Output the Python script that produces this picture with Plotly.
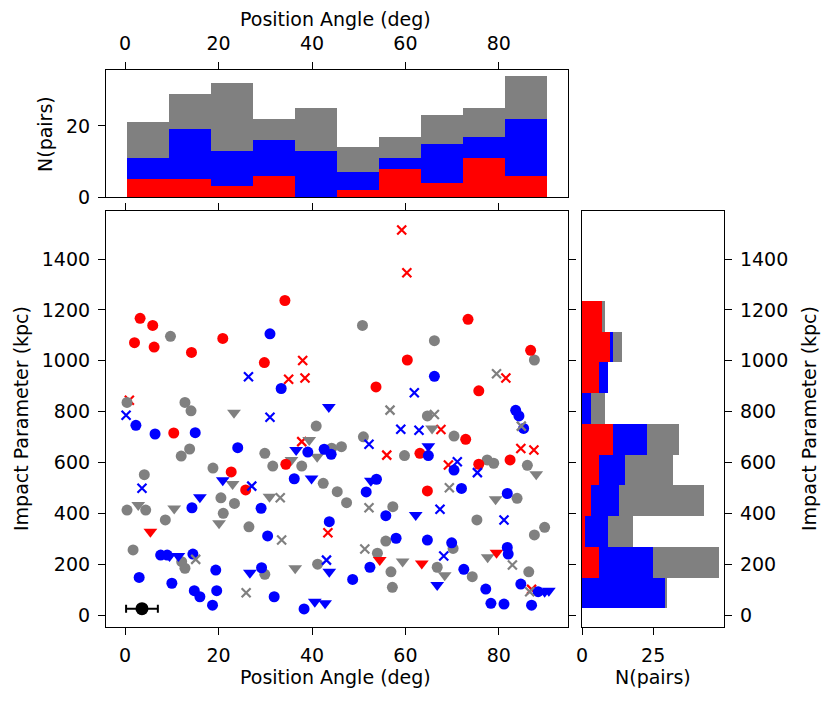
import numpy as np
import plotly.graph_objects as go

# ---------------- data ----------------
red_circle_pa = [3.2, 5.9, 2.0, 6.2, 14.2, 20.9, 29.8, 34.2, 60.4, 53.7, 73.4, 86.8, 75.7, 10.4, 22.7, 34.4, 25.8, 63.1, 64.7, 72.9, 75.7, 82.4]
red_circle_b = [1167, 1139, 1071, 1054, 1033, 1088, 993, 1237, 1003, 897, 1163, 1041, 882, 716, 563, 593, 492, 636, 488, 691, 593, 610]
red_tri_pa = [5.4, 54.5, 63.5, 79.5]
red_tri_b = [328, 216, 203, 245]
red_x_pa = [0.9, 59.2, 60.3, 38.0, 35.0, 38.5, 81.5, 37.8, 43.4, 56.0, 67.6, 69.2, 84.7, 87.5, 87.0]
red_x_b = [845, 1514, 1346, 1001, 927, 932, 932, 682, 324, 629, 730, 590, 655, 649, 101]

blue_circle_pa = [31.0, 33.4, 66.2, 83.6, 84.3, 85.3, 2.3, 6.4, 15.0, 14.3, 7.6, 9.0, 14.5, 3.0, 10.0, 14.8, 16.0, 19.4, 19.6, 18.7,
                  24.1, 39.1, 42.6, 44.1, 36.2, 29.1, 30.5, 43.7, 29.2, 31.9, 38.3, 64.9, 70.4, 53.8, 51.6, 55.8, 58.0, 64.7, 69.9,
                  52.4, 48.7, 72.0, 81.8, 81.8, 82.0, 72.5, 84.7, 88.4, 77.2, 78.3, 81.1, 87.0]
blue_circle_b = [1106, 891, 939, 805, 783, 734, 746, 712, 717, 422, 236, 236, 240, 148, 125, 96, 72, 177, 96, 39,
                 658, 641, 652, 632, 536, 420, 311, 367, 186, 72, 24, 627, 570, 534, 484, 391, 302, 295, 284,
                 188, 140, 498, 478, 266, 240, 180, 122, 92, 102, 46, 43, 39]
blue_tri_pa = [43.6, 20.9, 16.0, 9.5, 11.4, 36.6, 39.9, 26.7, 43.7, 40.6, 42.8, 64.9, 52.6, 62.2, 66.8, 89.8, 90.7]
blue_tri_b = [818, 530, 463, 232, 232, 649, 537, 166, 170, 52, 46, 664, 528, 393, 118, 92, 96]
blue_x_pa = [26.4, 0.2, 31.0, 61.9, 3.6, 27.1, 43.1, 59.0, 62.9, 52.2, 71.1, 67.4, 68.2, 75.4, 81.1]
blue_x_b = [937, 786, 778, 874, 499, 507, 216, 731, 727, 672, 603, 416, 232, 560, 374]

gray_circle_pa = [9.7, 50.8, 66.2, 87.6, 0.4, 12.8, 14.1, 64.7, 13.8, 12.0, 4.1, 18.8, 20.5, 0.4, 4.4, 8.6, 21.0, 1.7, 12.1, 12.8,
                  40.9, 29.9, 44.2, 46.3, 31.6, 37.8, 42.4, 45.4, 23.4, 26.5, 41.2, 29.9, 70.4, 51.0, 59.8, 47.4, 57.3, 55.8,
                  70.2, 54.0, 56.9, 57.2, 66.8, 77.5, 78.9, 86.1, 83.9, 75.3, 87.6, 89.8, 74.3, 86.4]
gray_circle_b = [1096, 1139, 1079, 1003, 836, 836, 803, 783, 653, 625, 552, 578, 461, 413, 413, 374, 400, 256, 210, 184,
                 743, 636, 656, 662, 586, 586, 518, 485, 439, 347, 200, 160, 704, 701, 627, 442, 426, 291,
                 262, 243, 170, 109, 188, 610, 597, 589, 459, 374, 315, 345, 151, 170]
gray_tri_pa = [23.3, 2.8, 10.5, 20.1, 39.4, 41.1, 35.6, 23.0, 30.9, 36.4, 65.7, 59.4, 68.4, 88.0, 79.3, 77.6]
gray_tri_b = [796, 433, 419, 361, 688, 623, 610, 515, 465, 184, 734, 211, 157, 554, 455, 227]
gray_x_pa = [56.7, 66.2, 79.5, 15.1, 33.2, 33.5, 25.9, 52.2, 69.4, 51.3, 84.8, 82.9, 86.6]
gray_x_b = [806, 789, 949, 219, 461, 295, 88, 422, 501, 260, 743, 197, 92]

# typical uncertainty point
err_pa = [3.6]
err_b = [25]
err_pa_size = [3.4]

# histogram of position angle (10 bins), counts per colour
pa_edges = np.linspace(0.3, 90.2, 11)
pa_red = [5, 5, 3, 6, 0, 2, 8, 4, 11, 6]
pa_blue = [6, 14, 10, 10, 13, 5, 3, 11, 6, 16]
pa_gray = [10, 10, 19, 6, 12, 7, 6, 8, 8, 12]

# histogram of impact parameter (10 bins), counts per colour
b_edges = np.linspace(26, 1236, 11)
b_red = [0, 6, 1, 3, 6, 11, 0, 6, 10, 7]
b_blue = [29, 19, 8, 10, 9, 12, 3, 3, 1, 0]
b_gray = [1, 23, 9, 30, 17, 11, 5, 0, 3, 1]

# ---------------- style ----------------
RED, BLUE, GRAY = "#ff0000", "#0000ff", "#808080"
FONT = "DejaVu Sans"
FS = 19
W, H = 830, 702

def px(x):
    return x / W

def py(y):
    return 1 - y / H

fig = go.Figure()

def scat(xs, ys, color, symbol, size, order_name):
    if symbol == "x-thin":
        marker = dict(symbol="x-thin", size=size, line=dict(color=color, width=2.2), color=color)
    else:
        marker = dict(symbol=symbol, size=size, color=color, line=dict(width=0))
    fig.add_trace(go.Scatter(x=xs, y=ys, mode="markers", marker=marker, name=order_name,
                             xaxis="x", yaxis="y", showlegend=False))

scat(red_x_pa, red_x_b, RED, "x-thin", 9, "rx")
scat(gray_circle_pa, gray_circle_b, GRAY, "circle", 11, "gc")
scat(gray_tri_pa, gray_tri_b, GRAY, "triangle-down", 12, "gt")
scat(red_circle_pa, red_circle_b, RED, "circle", 11, "rc")
scat(red_tri_pa, red_tri_b, RED, "triangle-down", 12, "rt")
scat(blue_circle_pa, blue_circle_b, BLUE, "circle", 11, "bc")
scat(blue_tri_pa, blue_tri_b, BLUE, "triangle-down", 12, "bt")
scat(gray_x_pa, gray_x_b, GRAY, "x-thin", 9, "gx")
scat(blue_x_pa, blue_x_b, BLUE, "x-thin", 9, "bx")

fig.add_trace(go.Scatter(x=err_pa, y=err_b, mode="markers",
                         marker=dict(color="black", size=13),
                         error_x=dict(type="data", array=err_pa_size, color="black", thickness=2, width=4),
                         xaxis="x", yaxis="y", showlegend=False))

# top histogram
pa_centers = 0.5 * (pa_edges[:-1] + pa_edges[1:])
pa_w = pa_edges[1] - pa_edges[0]
for vals, col in [(pa_red, RED), (pa_blue, BLUE), (pa_gray, GRAY)]:
    fig.add_trace(go.Bar(x=pa_centers, y=vals, width=pa_w, marker=dict(color=col, line=dict(width=0)),
                         xaxis="x2", yaxis="y2", showlegend=False))

# right histogram
b_centers = 0.5 * (b_edges[:-1] + b_edges[1:])
b_w = b_edges[1] - b_edges[0]
for vals, col in [(b_red, RED), (b_blue, BLUE), (b_gray, GRAY)]:
    fig.add_trace(go.Bar(y=b_centers, x=vals, width=b_w, orientation="h",
                         marker=dict(color=col, line=dict(width=0)),
                         xaxis="x3", yaxis="y3", showlegend=False))

main_xd = [px(106), px(568)]
main_yd = [py(627), py(211)]
top_yd = [py(197), py(70)]
right_xd = [px(582), px(724)]

axis_common = dict(showgrid=False, zeroline=False, showline=True, linecolor="black", linewidth=1.2,
                   ticks="outside", ticklen=7, tickwidth=1.2, tickcolor="black", ticklabelstandoff=4,
                   automargin=False, tickfont=dict(family=FONT, size=FS, color="black"))

xr = [-4.1, 94.8]
yr = [-47, 1589]

fig.update_layout(
    width=W, height=H, margin=dict(l=0, r=0, t=0, b=0, pad=0, autoexpand=False),
    paper_bgcolor="white", plot_bgcolor="white",
    barmode="stack", bargap=0,
    font=dict(family=FONT, size=FS, color="black"),
    xaxis=dict(domain=main_xd, range=xr, anchor="y", tickvals=[0, 20, 40, 60, 80], mirror="ticks", **axis_common),
    yaxis=dict(domain=main_yd, range=yr, anchor="x", tickvals=list(range(0, 1401, 200)), mirror="ticks", **axis_common),
    xaxis2=dict(domain=main_xd, range=xr, anchor="y2", side="top", tickvals=[0, 20, 40, 60, 80], mirror=True, **axis_common),
    yaxis2=dict(domain=top_yd, range=[0, 35.7], anchor="x2", tickvals=[0, 20], mirror=True, **axis_common),
    xaxis3=dict(domain=right_xd, range=[0, 49.9], anchor="y3", tickvals=[0, 25], mirror=True, **axis_common),
    yaxis3=dict(domain=main_yd, range=yr, anchor="x3", side="right", tickvals=list(range(0, 1401, 200)), mirror=True, **axis_common),
)

annots = [
    dict(text="Position Angle (deg)", x=px(335), y=py(677), textangle=0),
    dict(text="Position Angle (deg)", x=px(335), y=py(19), textangle=0),
    dict(text="N(pairs)", x=px(45), y=py(134), textangle=-90),
    dict(text="Impact Parameter (kpc)", x=px(21), y=py(419), textangle=-90),
    dict(text="Impact Parameter (kpc)", x=px(809), y=py(419), textangle=-90),
    dict(text="N(pairs)", x=px(653), y=py(677), textangle=0),
]
for a in annots:
    fig.add_annotation(xref="paper", yref="paper", showarrow=False, xanchor="center", yanchor="middle",
                       font=dict(family=FONT, size=FS, color="black"), **a)

fig.write_html("out.html", config={"displayModeBar": False},
               post_script="document.body.style.margin='0';document.body.style.padding='0';")
